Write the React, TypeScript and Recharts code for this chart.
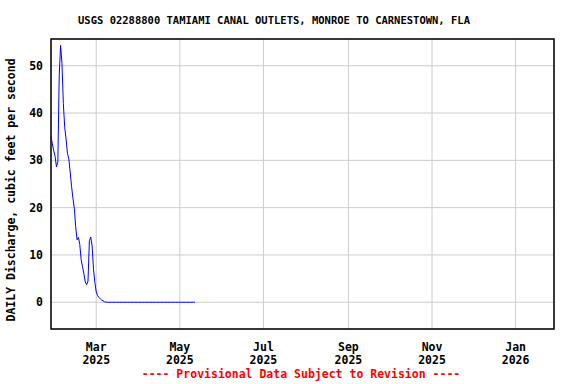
import React from 'react';
import { LineChart, Line, XAxis, YAxis, CartesianGrid, ReferenceArea } from 'recharts';

// daily mean discharge (cfs), one value per day starting Jan 27 2025
const flow = [
  35, 33.5, 32, 30.8, 28.6, 29.7, 48, 54.3, 50.5, 42,
  37, 34.5, 31.5, 30.3, 27.5, 24.5, 22, 19.9, 16, 13.2,
  13.7, 12.2, 9, 7.5, 6, 4.3, 3.7, 4.5, 13, 13.8,
  11.9, 7, 4.2, 2.2, 1.4, 1.0, 0.7, 0.45, 0.3, 0.1,
  0.05, 0, 0, 0, 0, 0, 0, 0, 0, 0,
  0, 0, 0, 0, 0, 0, 0, 0, 0, 0,
  0, 0, 0, 0, 0, 0, 0, 0, 0, 0,
  0, 0, 0, 0, 0, 0, 0, 0, 0, 0,
  0, 0, 0, 0, 0, 0, 0, 0, 0, 0,
  0, 0, 0, 0, 0, 0, 0, 0, 0, 0,
  0, 0, 0, 0, 0, 0,
];

// x ticks: days since Jan 27 2025
const xTicks = [33, 94, 155, 217, 278, 339];
const xTickMonths = ['Mar', 'May', 'Jul', 'Sep', 'Nov', 'Jan'];
const xTickYears = ['2025', '2025', '2025', '2025', '2025', '2026'];
const yTicks = [0, 10, 20, 30, 40, 50];

const X_DOMAIN: [number, number] = [0, 367];
const Y_DOMAIN: [number, number] = [-5.65, 55.65];

const data = flow.map((v, i) => ({ day: i, flow: v }));

const FONT = '"DejaVu Sans Mono", monospace';

const DateTick = ({ x, y, payload }: any) => {
  const i = xTicks.indexOf(payload.value);
  return (
    <text x={x} textAnchor="middle" fontFamily={FONT} fontWeight="bold" fontSize={11.5} fill="#000">
      <tspan x={x} y={y + 14}>{xTickMonths[i]}</tspan>
      <tspan x={x} y={y + 26.5}>{xTickYears[i]}</tspan>
    </text>
  );
};

export default function App() {
  return (
    <div style={{ position: 'absolute', left: 0, top: 0, width: 576, height: 384, background: '#fff' }}>
      <LineChart width={576} height={384} data={data} margin={{ top: 39, right: 22, bottom: 25, left: 0 }}>
        <CartesianGrid stroke="#cccccc" strokeWidth={1} />
        <XAxis
          dataKey="day"
          type="number"
          domain={X_DOMAIN}
          ticks={xTicks}
          tick={<DateTick />}
          tickLine={false}
          axisLine={false}
          height={30}
          interval={0}
        />
        <YAxis
          type="number"
          domain={Y_DOMAIN}
          ticks={yTicks}
          tickLine={false}
          axisLine={false}
          tickSize={0}
          tickMargin={8}
          width={51}
          tick={{ fontFamily: FONT, fontWeight: 'bold', fontSize: 11.5, fill: '#000' }}
          allowDataOverflow
        />
        <ReferenceArea
          x1={X_DOMAIN[0]}
          x2={X_DOMAIN[1]}
          y1={Y_DOMAIN[0]}
          y2={Y_DOMAIN[1]}
          fill="none"
          stroke="#000"
          strokeWidth={1.5}
          ifOverflow="visible"
        />
        <Line
          dataKey="flow"
          type="linear"
          stroke="#0000ff"
          strokeWidth={1}
          dot={false}
          isAnimationActive={false}
        />
      </LineChart>
      <svg width={576} height={384} style={{ position: 'absolute', left: 0, top: 0, pointerEvents: 'none' }}>
        <text x={274} y={24} textAnchor="middle" fontFamily={FONT} fontWeight="bold" fontSize={10.5} fill="#000">
          USGS 02288800 TAMIAMI CANAL OUTLETS, MONROE TO CARNESTOWN, FLA
        </text>
        <text
          transform="translate(15,190) rotate(-90)"
          textAnchor="middle"
          fontFamily={FONT}
          fontWeight="bold"
          fontSize={11.5}
          fill="#000"
        >
          DAILY Discharge, cubic feet per second
        </text>
        <text x={301} y={378} textAnchor="middle" fontFamily={FONT} fontWeight="bold" fontSize={11.5} fill="#ff0000">
          ---- Provisional Data Subject to Revision ----
        </text>
      </svg>
    </div>
  );
}
